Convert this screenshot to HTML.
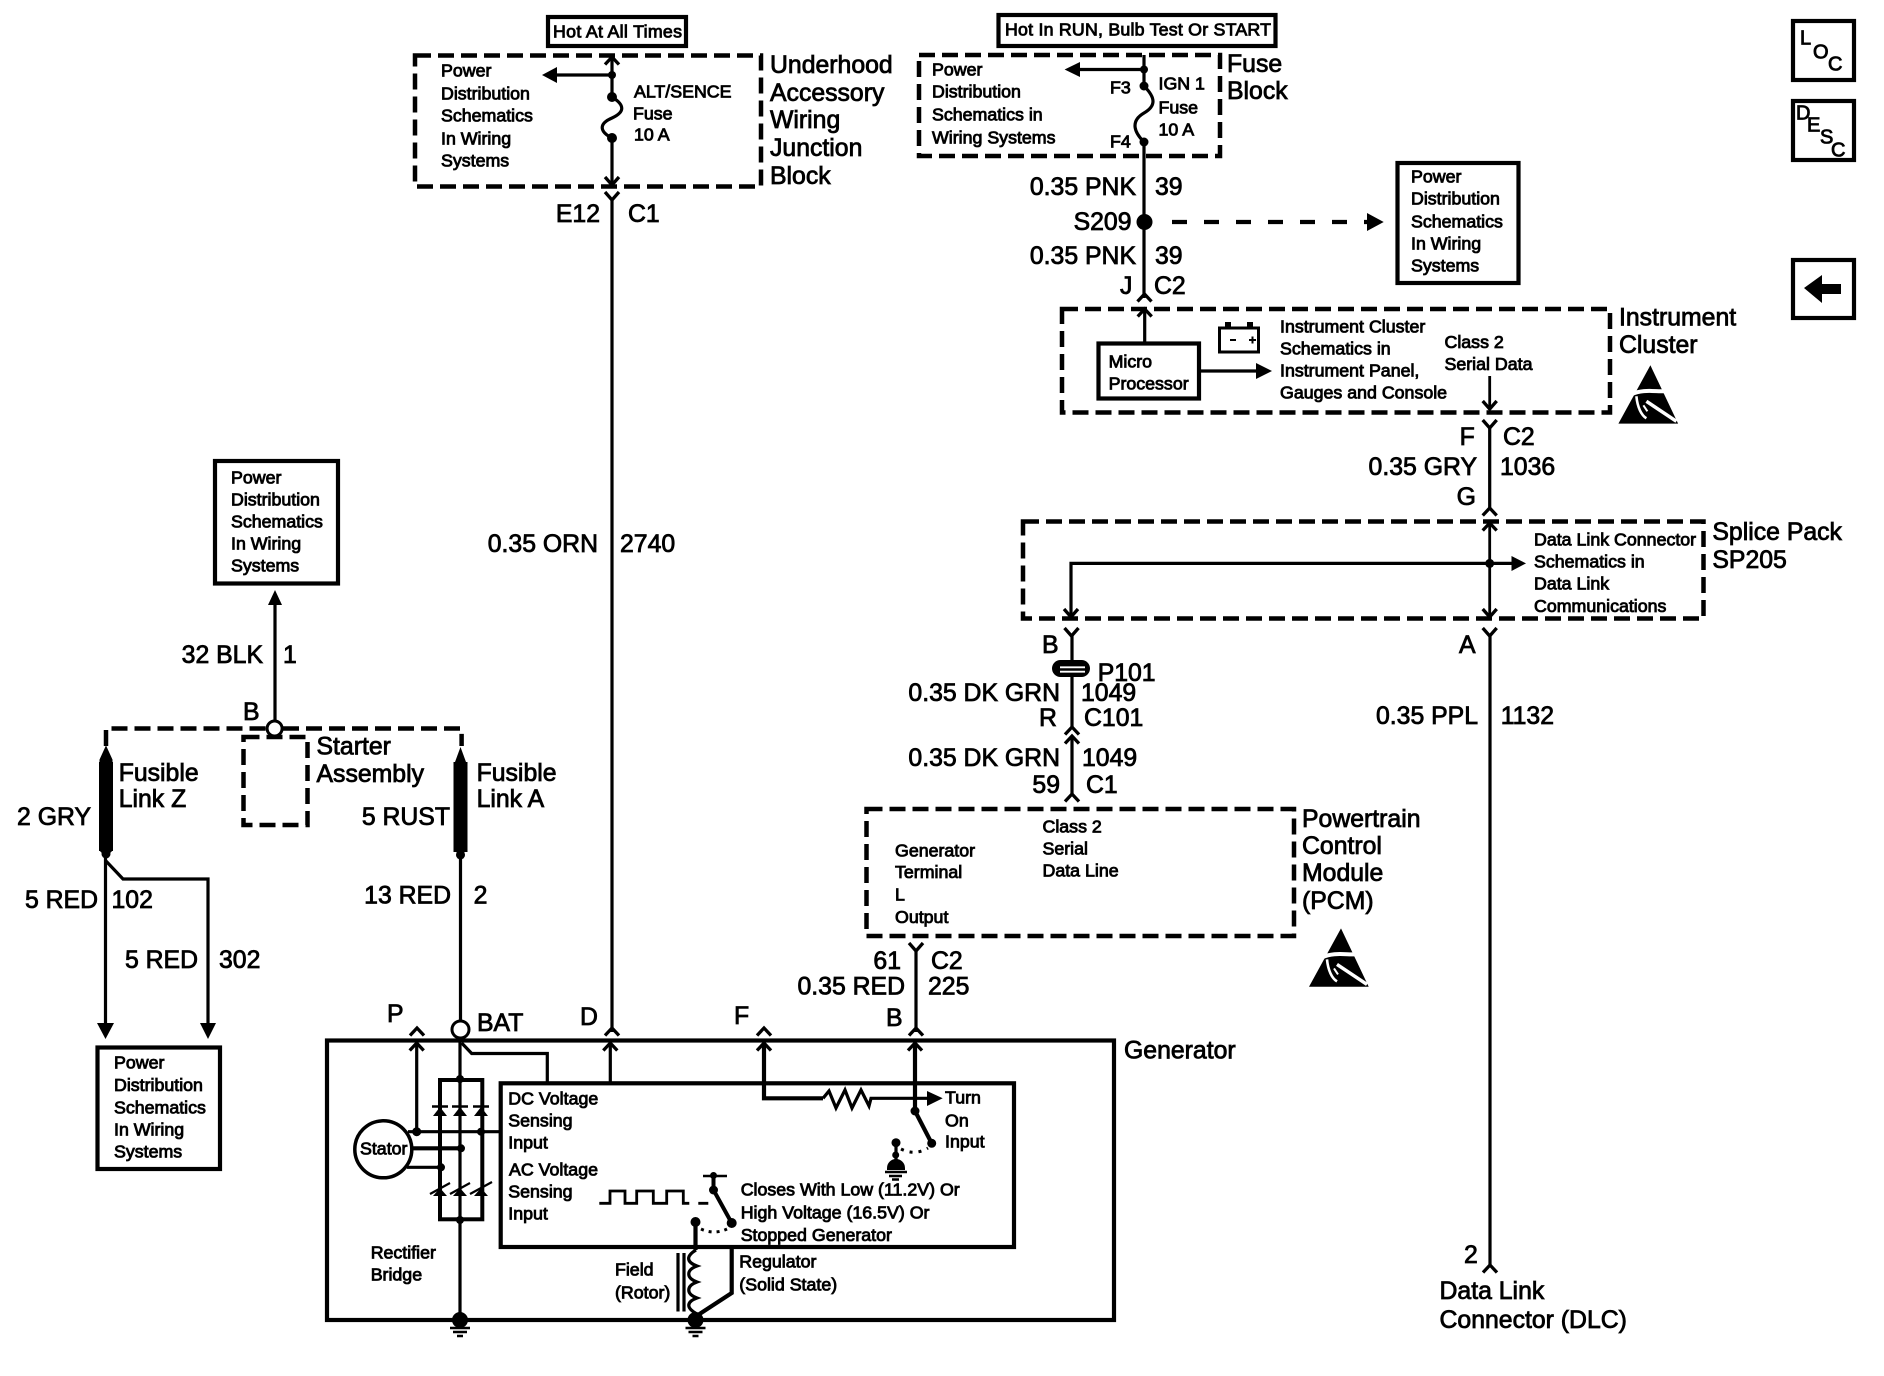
<!DOCTYPE html>
<html><head><meta charset="utf-8">
<style>
html,body{margin:0;padding:0;background:#fff;width:1884px;height:1376px;overflow:hidden}
svg{display:block}
text{font-family:"Liberation Sans",sans-serif;fill:#000;stroke:#000}
.s{font-size:17.8px;stroke-width:.85px;transform:translateY(-.7px)}
.l{font-size:24.8px;stroke-width:.8px;transform:translateY(-1px)}
.e{text-anchor:end}
.w{fill:none;stroke:#000;stroke-width:3.2}
.t{fill:none;stroke:#000;stroke-width:4.2}
.d{fill:none;stroke:#000;stroke-width:4.5;stroke-dasharray:16 7}
.c{fill:none;stroke:#000;stroke-width:2.8}
</style></head><body>
<svg width="1884" height="1376" viewBox="0 0 1884 1376" xmlns="http://www.w3.org/2000/svg">
<defs>
<path id="u" d="M-7 7.5L0 0L7 7.500" fill="none" stroke="#000" stroke-width="3.3"/>
<path id="y" d="M-7 0L0 8L7 0" fill="none" stroke="#000" stroke-width="3.3"/>
<g id="gnd"><circle r="8"/><path d="M-10 8H10M-7 12H7M-3 16H3" stroke="#000" stroke-width="2.600" fill="none"/></g>
<g id="esd"><path d="M0 0L27.700 58.300H-32Z"/><path d="M-19 29C-8 24 2 26 14 26" fill="none" stroke="#fff" stroke-width="4"/><path d="M-14 31C-13 42 -9 50 -4 53" fill="none" stroke="#fff" stroke-width="2.600"/><path d="M-4 36L26 56" stroke="#fff" stroke-width="3.500"/><path d="M-7 40L-3 46" stroke="#fff" stroke-width="2"/></g>
</defs>

<!-- Underhood block -->
<rect x="548" y="17" width="138" height="29" class="t"/>
<text class="s" x="553" y="38" textLength="129">Hot At All Times</text>
<rect x="415" y="55.5" width="346" height="131" class="d"/>
<use href="#u" x="612" y="57"/>
<path class="w" d="M612 58V97M612 138V184M612 75H556"/>
<path d="M542 75L557 67V83Z"/><circle cx="612" cy="75" r="4"/><circle cx="612" cy="97" r="5"/><circle cx="612" cy="138" r="5"/>
<path class="w" d="M612 97C625 105 625 112 612 118C598 124 600 132 612 138"/>
<use href="#y" x="612" y="177"/><use href="#y" x="612" y="192"/>
<text class="s"><tspan x="441" y="77">Power</tspan><tspan x="441" y="100">Distribution</tspan><tspan x="441" y="122">Schematics</tspan><tspan x="441" y="145">In Wiring</tspan><tspan x="441" y="167">Systems</tspan></text>
<text class="s"><tspan x="634" y="98">ALT/SENCE</tspan><tspan x="633" y="120">Fuse</tspan><tspan x="634" y="141">10 A</tspan></text>
<text class="l"><tspan x="770" y="74">Underhood</tspan><tspan x="770" y="102">Accessory</tspan><tspan x="770" y="129">Wiring</tspan><tspan x="770" y="157">Junction</tspan><tspan x="770" y="185">Block</tspan></text>
<text class="l e" x="600" y="223">E12</text><text class="l" x="628" y="223">C1</text>
<path class="w" d="M612 199V1032"/>
<text class="l e" x="598" y="553">0.35 ORN</text><text class="l" x="620" y="553">2740</text>
<use href="#u" x="612" y="1028"/>

<!-- Fuse block -->
<rect x="998.5" y="15" width="277" height="31" class="t"/>
<text class="s" x="1005" y="36" textLength="266">Hot In RUN, Bulb Test Or START</text>
<rect x="919" y="55" width="301" height="101" class="d"/>
<path class="w" d="M1144 55V86M1144 142V298M1144 69.5H1078"/>
<path d="M1064.6 69.5L1080 62V77Z"/><circle cx="1144" cy="69.5" r="4"/><circle cx="1144" cy="86" r="4.5"/><circle cx="1144" cy="142" r="4.5"/>
<path class="w" d="M1144 86C1156 98 1156 106 1144 113C1132 120 1132 130 1144 142"/>
<text class="s" x="1110" y="94">F3</text><text class="s" x="1110" y="148">F4</text>
<text class="s"><tspan x="1158.5" y="90">IGN 1</tspan><tspan x="1158.5" y="114">Fuse</tspan><tspan x="1158.5" y="136">10 A</tspan></text>
<text class="s"><tspan x="932" y="76">Power</tspan><tspan x="932" y="98">Distribution</tspan><tspan x="932" y="121">Schematics in</tspan><tspan x="932" y="144">Wiring Systems</tspan></text>
<text class="l"><tspan x="1227" y="73">Fuse</tspan><tspan x="1227" y="100">Block</tspan></text>
<text class="l e" x="1136" y="196">0.35 PNK</text><text class="l" x="1155" y="196">39</text>
<text class="l e" x="1131.5" y="231">S209</text>
<circle cx="1144.5" cy="222" r="8"/>
<path class="t" d="M1172 222H1367" stroke-dasharray="15 17"/>
<path d="M1383.7 222L1367 213V231Z"/>
<text class="l e" x="1136" y="265">0.35 PNK</text><text class="l" x="1155" y="265">39</text>
<text class="l" x="1120" y="295">J</text><text class="l" x="1154" y="295">C2</text>
<use href="#u" x="1144.5" y="294"/>

<rect x="1397.5" y="163" width="121" height="120" class="t"/>
<text class="s"><tspan x="1411" y="183">Power</tspan><tspan x="1411" y="205">Distribution</tspan><tspan x="1411" y="228">Schematics</tspan><tspan x="1411" y="250">In Wiring</tspan><tspan x="1411" y="272">Systems</tspan></text>

<!-- Instrument cluster -->
<rect x="1062" y="309" width="548" height="103.5" class="d"/>
<use href="#u" x="1144.7" y="309"/>
<path class="w" d="M1144.7 310V343"/>
<rect x="1098.5" y="343.5" width="100.5" height="55" class="t"/>
<text class="s"><tspan x="1108.6" y="368">Micro</tspan><tspan x="1108.6" y="390">Processor</tspan></text>
<path class="w" d="M1199 371H1258"/><path d="M1272 371L1256 363V379Z"/>
<rect x="1219.5" y="328" width="39" height="24" fill="none" stroke="#000" stroke-width="3"/>
<path d="M1225 322h6v6h-6zM1247 322h6v6h-6z"/><path d="M1230 340h6M1249 340h7M1252.500 336.500v7" stroke="#000" stroke-width="2"/>
<text class="s"><tspan x="1280" y="333">Instrument Cluster</tspan><tspan x="1280" y="355">Schematics in</tspan><tspan x="1280" y="377">Instrument Panel,</tspan><tspan x="1280" y="399">Gauges and Console</tspan></text>
<text class="s"><tspan x="1444.5" y="348.500">Class 2</tspan><tspan x="1444.5" y="370.500">Serial Data</tspan></text>
<path class="c" d="M1489.7 376V410"/><use href="#y" x="1489.7" y="401"/>
<use href="#y" x="1489.7" y="420"/>
<path class="w" d="M1489.7 426V510"/>
<use href="#u" x="1489.7" y="508"/>
<text class="l" x="1459.6" y="446">F</text><text class="l" x="1503" y="446">C2</text>
<text class="l e" x="1477" y="476">0.35 GRY</text><text class="l" x="1500" y="476">1036</text>
<text class="l" x="1456.6" y="506">G</text>
<text class="l"><tspan x="1619" y="326.5">Instrument</tspan><tspan x="1619" y="354">Cluster</tspan></text>
<use href="#esd" x="1650.4" y="365.3"/>

<!-- Splice pack -->
<rect x="1023" y="521.5" width="680.5" height="97" class="d"/>
<use href="#u" x="1489.7" y="523"/><use href="#y" x="1489.7" y="609"/>
<path class="c" d="M1489.7 524V617"/>
<path class="w" d="M1071 616V563.4H1512"/>
<path d="M1526 563.4L1511.500 556V571Z"/><circle cx="1489.7" cy="563.4" r="4.500"/>
<use href="#y" x="1071" y="609"/>
<text class="s"><tspan x="1534" y="546">Data Link Connector</tspan><tspan x="1534" y="568">Schematics in</tspan><tspan x="1534" y="590">Data Link</tspan><tspan x="1534" y="612.5">Communications</tspan></text>
<text class="l"><tspan x="1712.4" y="541">Splice Pack</tspan><tspan x="1712.4" y="569">SP205</tspan></text>
<use href="#y" x="1071.500" y="628"/><use href="#y" x="1489.7" y="628"/>
<text class="l" x="1042" y="654">B</text><text class="l" x="1459" y="654">A</text>
<path class="w" d="M1072 635V727"/>
<path class="w" d="M1490 635V1266"/>
<rect x="1052" y="660" width="38" height="17" rx="8.500" fill="#000"/>
<path d="M1060 667.300H1085M1060 671.700H1085" stroke="#fff" stroke-width="1.800"/>
<text class="l" x="1097.7" y="682">P101</text>
<text class="l e" x="1060" y="702">0.35 DK GRN</text><text class="l" x="1081" y="702">1049</text>
<text class="l" x="1039" y="727">R</text><text class="l" x="1084" y="727">C101</text>
<use href="#u" x="1072" y="727"/><use href="#u" x="1072" y="736"/>
<path class="w" d="M1072 737V796"/>
<text class="l e" x="1060" y="767">0.35 DK GRN</text><text class="l" x="1082" y="767">1049</text>
<text class="l e" x="1060" y="794">59</text><text class="l" x="1086" y="794">C1</text>
<use href="#u" x="1072" y="794"/>
<text class="l e" x="1478" y="725">0.35 PPL</text><text class="l" x="1500.7" y="725">1132</text>
<text class="l" x="1464" y="1264">2</text><use href="#u" x="1490" y="1265"/>
<text class="l"><tspan x="1439.5" y="1300">Data Link</tspan><tspan x="1439.5" y="1329">Connector (DLC)</tspan></text>

<!-- PCM -->
<rect x="866.5" y="809" width="427.500" height="127" class="d"/>
<text class="s"><tspan x="895" y="857">Generator</tspan><tspan x="895" y="878.5">Terminal</tspan><tspan x="895" y="901">L</tspan><tspan x="895" y="923.5">Output</tspan></text>
<text class="s"><tspan x="1042.500" y="833">Class 2</tspan><tspan x="1042.500" y="855">Serial</tspan><tspan x="1042.500" y="877">Data Line</tspan></text>
<text class="l"><tspan x="1302" y="828">Powertrain</tspan><tspan x="1302" y="855">Control</tspan><tspan x="1302" y="882">Module</tspan><tspan x="1302" y="910">(PCM)</tspan></text>
<use href="#esd" x="1341" y="928.4"/>
<use href="#y" x="916" y="943"/>
<path class="w" d="M916 950V1032"/>
<text class="l e" x="901" y="970">61</text><text class="l" x="931" y="970">C2</text>
<text class="l e" x="905" y="995.5">0.35 RED</text><text class="l" x="928" y="995.5">225</text>
<text class="l" x="886" y="1027">B</text><use href="#u" x="916" y="1028"/>

<!-- Power box top-left & starter -->
<rect x="215" y="461" width="123" height="122.500" class="t"/>
<text class="s"><tspan x="231" y="484">Power</tspan><tspan x="231" y="506">Distribution</tspan><tspan x="231" y="528">Schematics</tspan><tspan x="231" y="550">In Wiring</tspan><tspan x="231" y="572">Systems</tspan></text>
<path d="M275 590L268 605H282Z"/>
<path class="w" d="M275 604V721"/>
<text class="l e" x="263" y="664">32 BLK</text><text class="l" x="283" y="664">1</text>
<text class="l" x="243" y="721">B</text>
<circle cx="274.600" cy="728.5" r="7.500" fill="#fff" stroke="#000" stroke-width="3"/>
<path class="d" d="M106 746V728.5H266M283 728.5H461.600V746" stroke-dasharray="12 8"/>
<rect x="243.500" y="737" width="64" height="88" class="d" stroke-dasharray="12 8"/>
<text class="l"><tspan x="316.500" y="755.5">Starter</tspan><tspan x="316.500" y="783">Assembly</tspan></text>

<!-- Fusible Z -->
<path d="M106 749L111 760V850L106 855L101 850V760Z" stroke="#000" stroke-width="3"/>
<path d="M99 762h14v89H99z"/>
<circle cx="106" cy="854" r="4.500"/>
<path class="w" d="M105.500 854V1025M105.500 860.500L123 879H208V1025"/>
<path d="M105.500 1039L97 1023H114ZM208 1039L200 1023H216Z"/>
<text class="l"><tspan x="118.700" y="782">Fusible</tspan><tspan x="118.700" y="808">Link Z</tspan></text>
<text class="l e" x="91" y="826">2 GRY</text>
<text class="l e" x="98" y="909">5 RED</text><text class="l" x="111.5" y="909">102</text>
<text class="l e" x="198" y="969">5 RED</text><text class="l" x="219" y="969">302</text>
<rect x="97.500" y="1047.5" width="122.500" height="121.500" class="t"/>
<text class="s"><tspan x="114" y="1069">Power</tspan><tspan x="114" y="1091.5">Distribution</tspan><tspan x="114" y="1114">Schematics</tspan><tspan x="114" y="1136">In Wiring</tspan><tspan x="114" y="1158">Systems</tspan></text>

<!-- Fusible A -->
<path d="M460.500 747L466 762V851L460.500 856L455 851V762Z"/>
<path d="M453.500 762h14v90h-14z"/>
<circle cx="460.500" cy="855" r="4.500"/>
<path class="w" d="M460.500 855V1022"/>
<text class="l"><tspan x="476.600" y="782">Fusible</tspan><tspan x="476.600" y="808">Link A</tspan></text>
<text class="l e" x="450" y="826">5 RUST</text>
<text class="l e" x="451" y="904.500">13 RED</text><text class="l" x="473.600" y="904.500">2</text>
<text class="l" x="387" y="1023">P</text><use href="#u" x="417" y="1028"/>
<text class="l" x="477" y="1032">BAT</text>
<text class="l" x="580" y="1026">D</text>
<text class="l" x="734" y="1025">F</text><use href="#u" x="764" y="1028"/>

<!-- Generator -->
<rect x="327" y="1040.500" width="787" height="279.500" class="t"/>
<circle cx="460.500" cy="1029.500" r="8.500" fill="#fff" stroke="#000" stroke-width="3"/>
<text class="l" x="1124" y="1059.5">Generator</text>
<rect x="500.700" y="1083.300" width="513.300" height="163.700" class="t"/>
<!-- internal wires -->
<path class="w" d="M460 1040V1318"/>
<path class="w" d="M461.700 1043L471.700 1053.500H547.300V1083"/>
<path class="w" d="M610.300 1044V1083"/><use href="#u" x="610.300" y="1043"/>
<path class="w" d="M416.700 1044V1131.700"/><use href="#u" x="416.700" y="1043"/>
<!-- bridge -->
<rect x="440" y="1080" width="42.300" height="139.300" fill="none" stroke="#000" stroke-width="4"/>
<circle cx="460" cy="1079" r="4"/><circle cx="460" cy="1220" r="4"/>
<path d="M433 1116L440 1107L447 1116ZM453 1116L460 1107L467 1116ZM474 1116L481 1107L488 1116Z"/>
<path d="M432 1106.500H448M452 1106.500H468M473 1106.500H489" stroke="#000" stroke-width="2.500"/>
<path d="M433 1196L440 1188L447 1196ZM453 1196L460 1188L467 1196ZM474 1196L481 1188L488 1196Z"/>
<path d="M430 1194L450 1183M450 1194L470 1183M470 1194L492 1182" stroke="#000" stroke-width="2.200"/>
<circle cx="383.300" cy="1149.300" r="28.500" fill="#fff" stroke="#000" stroke-width="3.500"/>
<text class="s" x="360" y="1155">Stator</text>
<path class="w" d="M408 1131.700H500"/><path class="t" d="M412 1148.300H460"/><path class="w" d="M407 1167.300H440"/>
<circle cx="416.700" cy="1131.700" r="4.500"/><circle cx="481" cy="1131.700" r="4"/><circle cx="461" cy="1148.300" r="4"/><circle cx="441" cy="1167.300" r="4"/>
<text class="s"><tspan x="508.300" y="1105">DC Voltage</tspan><tspan x="508.300" y="1127">Sensing</tspan><tspan x="508.300" y="1149">Input</tspan><tspan x="509" y="1176">AC Voltage</tspan><tspan x="508.300" y="1198">Sensing</tspan><tspan x="508.300" y="1220">Input</tspan></text>
<path class="c" d="M599.300 1203.300H610V1191H625V1203.300H636.700V1191H653.300V1203.300H666.700V1191H683.300V1203.300H689.300M698.300 1203.300H708.300"/>
<path d="M703 1176H727" stroke="#000" stroke-width="2.500"/>
<path fill="none" stroke="#000" stroke-width="4" d="M713.500 1176V1190L731.700 1223"/>
<circle cx="713.500" cy="1190" r="4.500"/><circle cx="713.500" cy="1175.500" r="3.500"/><circle cx="731.700" cy="1223" r="5"/><circle cx="695.500" cy="1222" r="5"/>
<path fill="none" stroke="#000" stroke-width="3" stroke-dasharray="3 5" d="M701 1229Q714 1235 727 1229"/>
<path class="t" d="M695.500 1222V1250"/>
<path class="w" d="M696 1250C686 1256 686 1262 697 1266C686 1270 686 1278 697 1282C686 1286 686 1294 697 1298C686 1302 686 1308 697 1314"/>
<path class="w" d="M678 1253V1311.500M684 1253V1311.500"/>
<path class="t" d="M731.700 1247V1293L698 1315" stroke-width="3.500"/>
<use href="#gnd" x="460" y="1320"/><use href="#gnd" x="695.500" y="1320"/>
<text class="s"><tspan x="370.700" y="1259">Rectifier</tspan><tspan x="370.700" y="1281">Bridge</tspan></text>
<text class="s"><tspan x="615" y="1276">Field</tspan><tspan x="615" y="1299">(Rotor)</tspan></text>
<text class="s"><tspan x="739.300" y="1268">Regulator</tspan><tspan x="739.300" y="1291">(Solid State)</tspan></text>
<text class="s"><tspan x="740.700" y="1196">Closes With Low (11.2V) Or</tspan><tspan x="740.700" y="1219">High Voltage (16.5V) Or</tspan><tspan x="740.700" y="1241.5">Stopped Generator</tspan></text>
<path class="t" d="M764 1044V1098.300H823"/><use href="#u" x="764" y="1043"/>
<path class="w" d="M823 1098.300L829 1091L836 1108L845 1090L852 1108L861 1090L869 1106L871 1098.300H930"/>
<path d="M942.700 1098.300L927 1091V1106Z"/>
<path class="t" d="M915 1044V1111"/><use href="#u" x="915" y="1043"/>
<circle cx="915" cy="1111" r="4.500"/><path class="t" d="M915 1111L931.700 1143.300"/>
<circle cx="931.700" cy="1143.300" r="4.500"/><circle cx="896" cy="1142.700" r="4.500"/>
<path fill="none" stroke="#000" stroke-width="3" stroke-dasharray="3 6" d="M901 1149Q915 1156 928 1148"/>
<path class="w" d="M896 1142.700V1160"/>
<path d="M887 1168A9 9 0 0 1 905 1168V1170H887Z"/><circle cx="895.700" cy="1155" r="3.500"/>
<path d="M885 1172H907M889 1176H902M892 1179.500H899" stroke="#000" stroke-width="2.400"/>
<text class="s"><tspan x="945" y="1104">Turn</tspan><tspan x="945" y="1127">On</tspan><tspan x="945" y="1148">Input</tspan></text>

<!-- Right side buttons -->
<rect x="1793" y="21" width="61" height="59" class="t"/>
<text class="s" style="font-size:20px"><tspan x="1800" y="45">L</tspan><tspan x="1813" y="59">O</tspan><tspan x="1828" y="71">C</tspan></text>
<rect x="1793" y="101" width="61" height="59" class="t"/>
<text class="s" style="font-size:20px"><tspan x="1796" y="120">D</tspan><tspan x="1807" y="132">E</tspan><tspan x="1820" y="144">S</tspan><tspan x="1831" y="157">C</tspan></text>
<rect x="1793" y="260" width="61" height="58" class="t"/>
<path d="M1804 288L1822 275V284H1841V294H1822V303Z"/>
</svg>
</body></html>
